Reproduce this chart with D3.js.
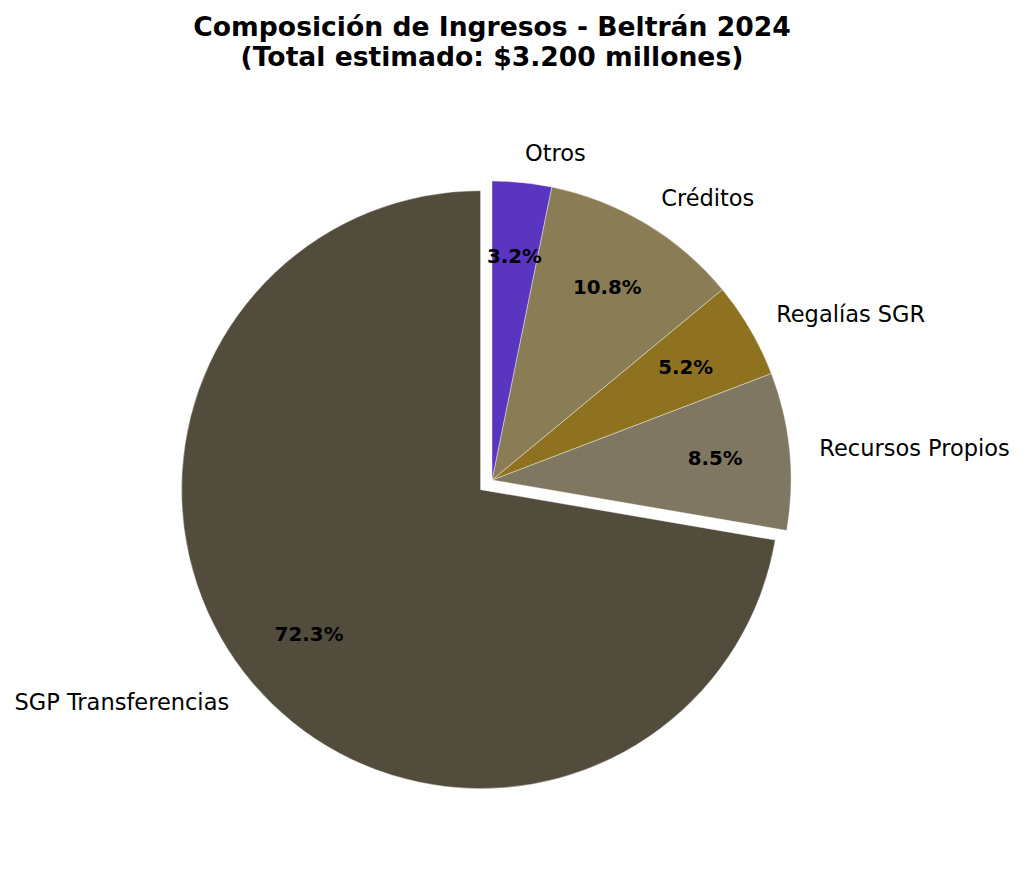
<!DOCTYPE html>
<html>
<head>
<meta charset="utf-8">
<script src="https://cdn.jsdelivr.net/npm/d3@7"></script>
<style>
  body { margin: 0; background: #fff; }
  text { font-family: "DejaVu Sans", sans-serif; }
</style>
</head>
<body>
<div id="chart"></div>
<script>
const labels = ["SGP Transferencias", "Recursos Propios", "Regalías SGR", "Créditos", "Otros"];
const values = [72.3, 8.5, 5.2, 10.8, 3.2];
const colors = ["#524c3c", "#7f7761", "#8e7220", "#8a7c54", "#5a35c0"];
const explode = [0.05, 0, 0, 0, 0];
const titleLines = ["Composición de Ingresos - Beltrán 2024", "(Total estimado: $3.200 millones)"];

const width = 1024, height = 869;
const cx = 492, cy = 480, radius = 299;

const svg = d3.select("#chart").append("svg")
  .attr("width", width)
  .attr("height", height);

// matplotlib style: start at top, counter-clockwise
const pie = d3.pie()
  .value(d => d.value)
  .sort(null)
  .startAngle(0)
  .endAngle(-2 * Math.PI);

const rows = labels.map((label, i) => ({ label, value: values[i], color: colors[i], explode: explode[i] }));
const arcs = pie(rows);

const arc = d3.arc().innerRadius(0).outerRadius(radius);

// d3 angle (0 = top, clockwise) -> unit vector on screen
const dir = a => [Math.sin(a), -Math.cos(a)];

const g = svg.append("g").attr("transform", `translate(${cx},${cy})`);

arcs.forEach(d => {
  const mid = (d.startAngle + d.endAngle) / 2;
  const [ux, uy] = dir(mid);
  const off = d.data.explode * radius;
  const ox = ux * off, oy = uy * off;

  g.append("path")
    .attr("d", arc(d))
    .attr("transform", `translate(${ox},${oy})`)
    .attr("fill", d.data.color)
    .attr("stroke", "#ffffff")
    .attr("stroke-opacity", 0.4)
    .attr("stroke-width", 1);

  const lr = radius * 1.1;
  const lx = ox + ux * lr, ly = oy + uy * lr;
  g.append("text")
    .attr("x", lx)
    .attr("y", ly)
    .attr("text-anchor", lx - ox > 0 ? "start" : "end")
    .attr("dominant-baseline", "central")
    .attr("font-size", 22.5)
    .attr("fill", "#000")
    .text(d.data.label);

  const pr = radius * 0.75;
  g.append("text")
    .attr("x", ox + ux * pr)
    .attr("y", oy + uy * pr)
    .attr("text-anchor", "middle")
    .attr("dominant-baseline", "central")
    .attr("font-size", 19.8)
    .attr("font-weight", "bold")
    .attr("fill", "#000")
    .text(d3.format(".1f")(d.data.value) + "%");
});

svg.append("g").selectAll("text")
  .data(titleLines)
  .join("text")
  .attr("x", cx)
  .attr("y", (d, i) => 36 + i * 30)
  .attr("text-anchor", "middle")
  .attr("font-size", 26.6)
  .attr("font-weight", "bold")
  .attr("fill", "#000")
  .text(d => d);
</script>
</body>
</html>
